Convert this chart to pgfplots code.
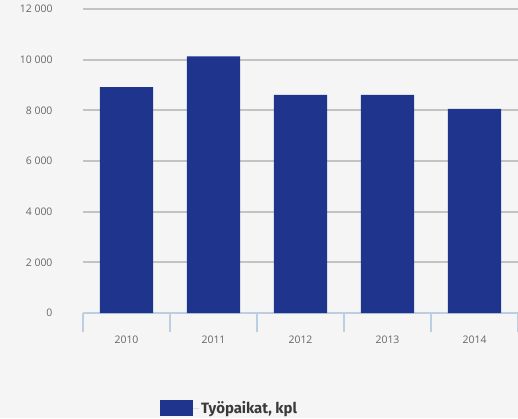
\documentclass[border=0pt]{standalone}
\usepackage{fontspec}
\setmainfont{Open Sans}
\newfontfamily\legfont{Fira Sans}
\usepackage{pgfplots}
\pgfplotsset{compat=1.18}
\definecolor{bg}{HTML}{F5F5F5}
\definecolor{barblue}{HTML}{1F348C}
\definecolor{gridgray}{HTML}{C3C3C3}
\definecolor{axblue}{HTML}{BCCFE2}
\definecolor{ticktext}{HTML}{666666}
\definecolor{legtext}{HTML}{3A3A3A}
\begin{document}
\begin{tikzpicture}[x=1bp,y=1bp]
\path[use as bounding box, fill=bg] (0,0) rectangle (518,418);
\begin{axis}[
  at={(83bp,105bp)}, anchor=south west,
  scale only axis, width=435bp, height=304bp,
  xmin=-0.5, xmax=4.5, ymin=0, ymax=12000,
  axis x line=bottom, axis y line=left,
  x axis line style={draw=axblue, line width=1.6bp, -},
  y axis line style={draw=none},
  xtick={0,1,2,3,4},
  xticklabels={2010,2011,2012,2013,2014},
  major x tick style={draw=none},
  minor xtick={-0.5,0.5,1.5,2.5,3.5,4.5},
  minor x tick style={draw=axblue, line width=1.6bp},
  minor tick length=19bp,
  tick align=outside,
  ytick={0,2000,...,12000},
  major y tick style={draw=none},
  major tick length=0pt,
  ymajorgrids, grid style={draw=gridgray, line width=2bp},
  /pgf/number format/assume math mode=true,
  /pgf/number format/1000 sep={\ },
  scaled y ticks=false,
  tick label style={font=\fontsize{10.5}{12}\selectfont, text=ticktext},
  xticklabel style={yshift=-19bp},
  yticklabel style={xshift=-27bp, anchor=east},
  legend style={at={(0.177,-0.3125)}, anchor=west, draw=none, fill=none,
    font=\legfont\bfseries\fontsize{15}{17}\selectfont, text=legtext,
    inner sep=0pt},
  legend image code/.code={\fill[barblue] (0bp,-8bp) rectangle (33bp,8bp);
    \path (0bp,0bp) -- (39bp,0bp);},
  legend cell align=left,
]
\addplot[ybar, bar width=0.61, fill=barblue, draw=none] coordinates {
  (0,8920) (1,10130) (2,8610) (3,8610) (4,8060)
};
\addlegendentry{Työpaikat, kpl}
\end{axis}
\end{tikzpicture}
\end{document}
